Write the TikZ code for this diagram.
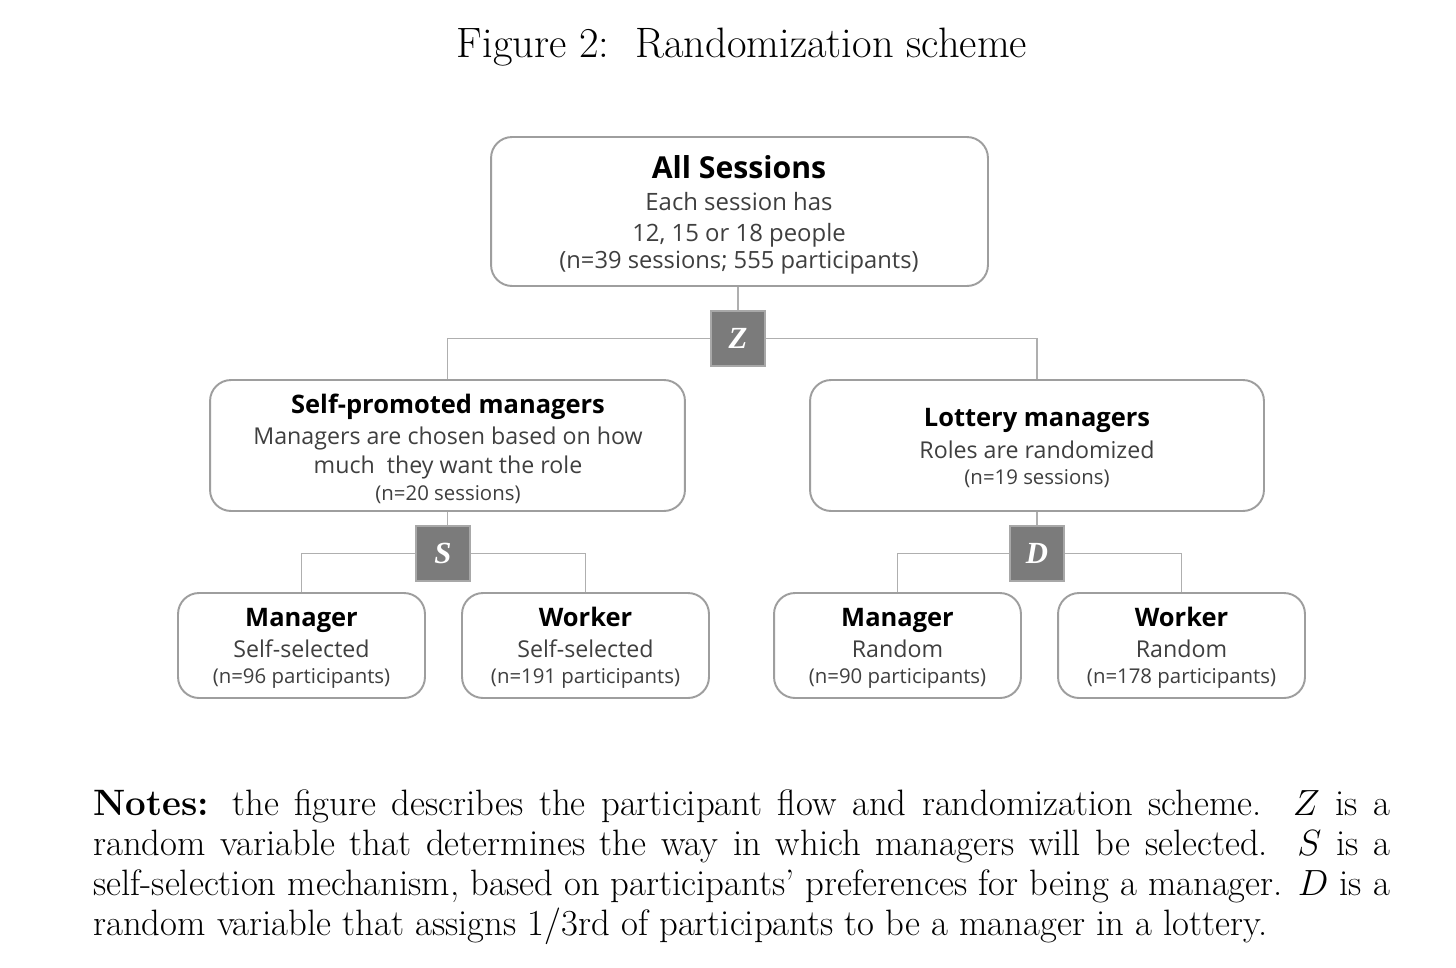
\documentclass[tikz,border=0pt]{standalone}
\usepackage{fontspec}
\newfontfamily\boxfont{Open Sans}
\newfontfamily\rvfont{Liberation Serif}
\definecolor{boxgray}{HTML}{9E9E9E}
\definecolor{linegray}{HTML}{AFAFAF}
\definecolor{bodygray}{HTML}{3F3F3F}
\definecolor{rvfill}{HTML}{7B7B7B}
\definecolor{rvedge}{HTML}{A8A8A8}
\begin{document}
\begin{tikzpicture}[x=0.02cm,y=-0.02cm,
  box/.style={draw=boxgray, line width=1.1pt, rounded corners=0.42cm, fill=white, inner sep=0},
  rv/.style={draw=rvedge, fill=rvfill, line width=0.9pt, minimum width=1.08cm, minimum height=1.1cm, inner sep=0, text=white, font=\rvfont\bfseries\itshape\fontsize{17.5}{17.5}\selectfont},
  conn/.style={draw=linegray, line width=1pt},
  hd/.style={font=\boxfont\bfseries\fontsize{14.5}{17}\selectfont, text=black, anchor=base, inner sep=0},
  bd/.style={font=\boxfont\fontsize{13.2}{15}\selectfont, text=bodygray, anchor=base, inner sep=0},
  sm/.style={font=\boxfont\fontsize{11.6}{13}\selectfont, text=bodygray, anchor=base, inner sep=0}
]
\useasboundingbox (0,0) rectangle (1456,967);

% title
\node[font=\fontsize{24.2}{28}\selectfont, anchor=base, inner sep=0] (title) at (742,57) {Figure 2:\ \ Randomization scheme};

% boxes
\node[box, minimum width=9.94cm, minimum height=2.98cm] (all) at (739.5,211.5) {};
\node[box, minimum width=9.5cm, minimum height=2.62cm] (sp) at (447.5,445.5) {};
\node[box, minimum width=9.08cm, minimum height=2.62cm] (lot) at (1037,445.5) {};
\node[box, minimum width=4.94cm, minimum height=2.1cm] (m1) at (301.5,645.5) {};
\node[box, minimum width=4.94cm, minimum height=2.1cm] (w1) at (585.5,645.5) {};
\node[box, minimum width=4.94cm, minimum height=2.1cm] (m2) at (897.5,645.5) {};
\node[box, minimum width=4.94cm, minimum height=2.1cm] (w2) at (1181.5,645.5) {};

% random variables
\node[rv] (Z) at (738,338.5) {Z};
\node[rv] (S) at (443,553.5) {S};
\node[rv] (D) at (1037,553.5) {D};

% connectors
\draw[conn] (Z.north |- all.south) -- (Z.north);
\draw[conn] (Z.west) -| (sp.north);
\draw[conn] (Z.east) -| (lot.north);
\draw[conn] (sp.south) -- (sp.south |- S.north);
\draw[conn] (S.west) -| (m1.north);
\draw[conn] (S.east) -| (w1.north);
\draw[conn] (lot.south) -- (D.north);
\draw[conn] (D.west) -| (m2.north);
\draw[conn] (D.east) -| (w2.north);

% texts
\node[hd, font=\boxfont\bfseries\fontsize{17.2}{20}\selectfont] (allh) at (739,178) {All Sessions};
\node[bd, font=\boxfont\fontsize{13.6}{16}\selectfont] (all1) at (739,210) {Each session has};
\node[bd, font=\boxfont\fontsize{13.6}{16}\selectfont] (all2) at (739,241) {12, 15 or 18 people};
\node[bd, font=\boxfont\fontsize{13.5}{16}\selectfont] (all3) at (739,268) {(n=39 sessions; 555 participants)};

\node[hd] (sph) at (448,413) {Self-promoted managers};
\node[bd] (sp1) at (448,444) {Managers are chosen based on how};
\node[bd] (sp2) at (448,473) {much\ \ they want the role};
\node[sm] (sp3) at (448,500) {(n=20 sessions)};

\node[hd] (loth) at (1037,426) {Lottery managers};
\node[bd] (lot1) at (1037,458) {Roles are randomized};
\node[sm] (lot2) at (1037,484) {(n=19 sessions)};

\node[hd] (m1h) at (301.5,626) {Manager};
\node[bd] (m1a) at (301.5,657) {Self-selected};
\node[sm] (m1b) at (301.5,683) {(n=96 participants)};

\node[hd] (w1h) at (585.5,626) {Worker};
\node[bd] (w1a) at (585.5,657) {Self-selected};
\node[sm] (w1b) at (585.5,683) {(n=191 participants)};

\node[hd] (m2h) at (897.5,626) {Manager};
\node[bd] (m2a) at (897.5,657) {Random};
\node[sm] (m2b) at (897.5,683) {(n=90 participants)};

\node[hd] (w2h) at (1181.5,626) {Worker};
\node[bd] (w2a) at (1181.5,657) {Random};
\node[sm] (w2b) at (1181.5,683) {(n=178 participants)};

% notes
\node[anchor=north west, inner sep=0, text width=25.94cm, align=justify,
  font=\fontsize{20.9}{22.85}\selectfont] (notes) at (93,789)
{\textbf{Notes:} the figure describes the participant flow and randomization scheme.\ \ $Z$ is a\linebreak
random variable that determines the way in which managers will be selected.\ \ $S$ is a\linebreak
self-selection mechanism, based on participants' preferences for being a manager. $D$ is a\linebreak
random variable that assigns 1/3rd of participants to be a manager in a lottery.};
\end{tikzpicture}
\end{document}
